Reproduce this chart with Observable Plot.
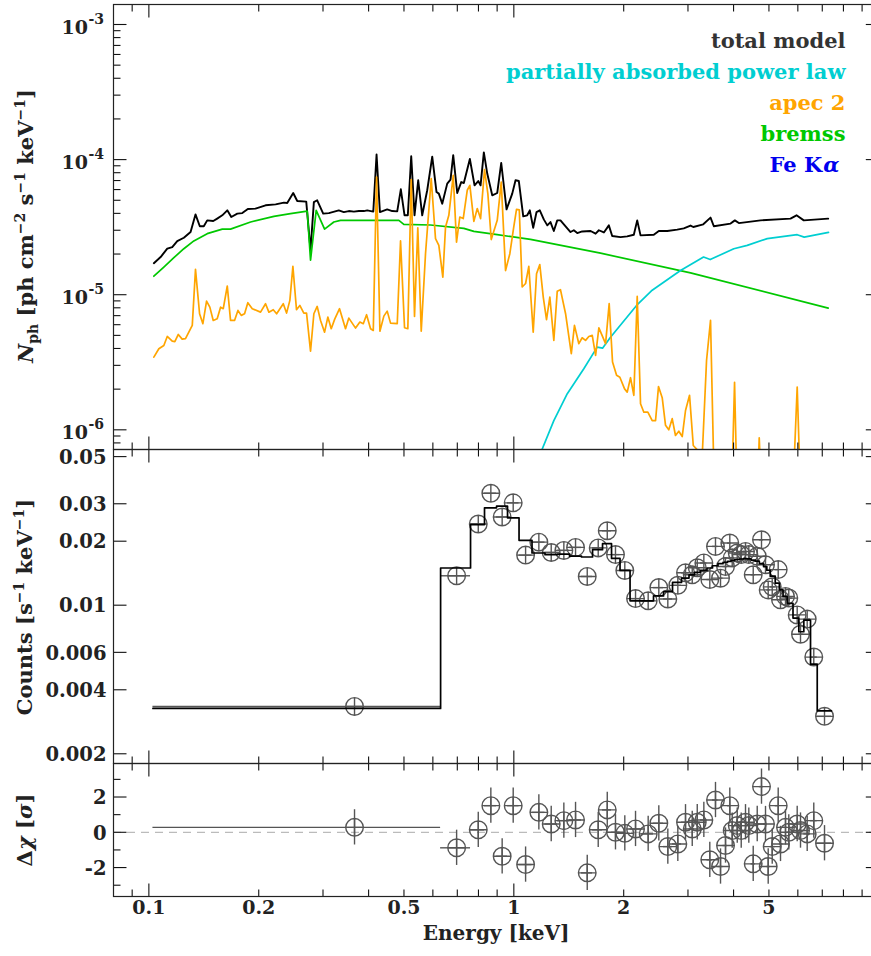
<!DOCTYPE html>
<html>
<head>
<meta charset="utf-8">
<script src="https://cdn.jsdelivr.net/npm/d3@7"></script>
<script src="https://cdn.jsdelivr.net/npm/@observablehq/plot@0.6"></script>
<style>
  html, body { margin: 0; padding: 0; background: #fff; overflow: hidden; }
  #chart { position: relative; width: 871px; height: 956px; overflow: hidden; background: #fff; }
  #chart svg { position: absolute; left: 0; }
</style>
</head>
<body>
<div id="chart"></div>
<script>
// ---------- Model components (photon spectrum, ph cm^-2 s^-1 keV^-1) ----------
const totalE = [0.1032,0.1077,0.1123,0.1159,0.1196,0.1247,0.1301,0.1342,0.1379,0.1414,0.1445,0.1501,0.1539,0.1589,0.1640,0.1682,0.1747,0.1803,0.1867,0.1960,0.2088,0.2225,0.2344,0.2394,0.2486,0.2550,0.2699,0.2773,0.2832,0.2892,0.3004,0.3113,0.3314,0.3421,0.3531,0.3645,0.3762,0.3882,0.3966,0.4120,0.4206,0.4296,0.4498,0.4643,0.4792,0.4902,0.5018,0.5123,0.5234,0.5344,0.5470,0.5610,0.5790,0.5976,0.6140,0.6230,0.6365,0.6569,0.6707,0.6822,0.6997,0.7176,0.7295,0.7577,0.7805,0.7990,0.8107,0.8276,0.8455,0.8726,0.9006,0.9236,0.9550,0.9900,1.0108,1.0320,1.0611,1.0882,1.1061,1.130,1.154,1.178,1.208,1.235,1.260,1.287,1.315,1.342,1.386,1.430,1.460,1.492,1.539,1.623,1.675,1.710,1.765,1.821,1.860,1.960,2.045,2.132,2.178,2.224,2.418,2.496,2.633,2.803,2.922,3.049,3.102,3.304,3.459,3.532,3.925,4.033,4.136,4.742,5.729,5.950,6.230,7.266];
const totalN = [1.71e-5,1.90e-5,2.19e-5,2.25e-5,2.49e-5,2.64e-5,2.91e-5,3.93e-5,3.21e-5,3.21e-5,3.55e-5,3.51e-5,3.66e-5,3.87e-5,4.21e-5,3.76e-5,3.98e-5,4.02e-5,4.31e-5,4.34e-5,4.59e-5,4.66e-5,4.80e-5,4.77e-5,5.66e-5,4.94e-5,4.89e-5,2.13e-5,4.85e-5,5.00e-5,3.98e-5,4.02e-5,4.21e-5,4.09e-5,4.16e-5,4.12e-5,4.16e-5,4.16e-5,4.21e-5,4.12e-5,1.09e-4,4.09e-5,4.28e-5,4.16e-5,4.14e-5,6.03e-5,3.87e-5,3.87e-5,1.06e-4,3.87e-5,7.03e-5,3.87e-5,5.93e-5,1.05e-4,5.75e-5,5.60e-5,4.72e-5,6.64e-5,7.11e-5,1.08e-4,5.66e-5,6.82e-5,6.71e-5,1.01e-4,6.45e-5,6.94e-5,6.45e-5,1.13e-4,7.88e-5,5.44e-5,5.66e-5,9.44e-5,4.28e-5,5.60e-5,7.03e-5,6.94e-5,3.80e-5,3.87e-5,4.21e-5,3.13e-5,4.09e-5,4.21e-5,3.61e-5,3.26e-5,3.45e-5,2.96e-5,3.55e-5,3.55e-5,3.21e-5,2.91e-5,3.00e-5,2.86e-5,2.94e-5,2.96e-5,2.83e-5,3.00e-5,2.89e-5,3.26e-5,2.72e-5,2.67e-5,2.70e-5,2.78e-5,3.55e-5,2.75e-5,2.78e-5,2.96e-5,2.96e-5,3.03e-5,3.10e-5,3.25e-5,3.17e-5,3.32e-5,3.72e-5,3.21e-5,3.36e-5,3.55e-5,3.39e-5,3.55e-5,3.66e-5,3.87e-5,3.55e-5,3.66e-5];

const powerlawE = [1.17,1.196,1.287,1.401,1.555,1.692,1.750,1.840,2.169,2.394,2.862,3.310,3.452,4.006,4.360,4.946,5.976,6.246,7.281];
const powerlawN = [4.5e-7,7.2e-7,1.17e-6,1.85e-6,2.83e-6,4.09e-6,4.02e-6,4.85e-6,8.33e-6,1.08e-5,1.51e-5,1.90e-5,1.82e-5,2.19e-5,2.32e-5,2.60e-5,2.78e-5,2.67e-5,2.89e-5];

const apecE = [0.1032,0.1065,0.1099,0.1123,0.1159,0.1178,0.1204,0.1234,0.1260,0.1315,0.1342,0.1377,0.1406,0.1439,0.1469,0.1501,0.1539,0.1572,0.1599,0.1640,0.1674,0.1717,0.1754,0.1791,0.1829,0.1867,0.1920,0.2023,0.2088,0.2132,0.2192,0.2239,0.2335,0.2384,0.2434,0.2481,0.2538,0.2592,0.2658,0.2704,0.2773,0.2832,0.2892,0.2954,0.3030,0.3093,0.3160,0.3230,0.3330,0.3458,0.3531,0.3684,0.3786,0.3868,0.3949,0.4050,0.4120,0.4206,0.4296,0.4404,0.4498,0.4594,0.4792,0.4893,0.5018,0.5123,0.5234,0.5344,0.5456,0.5575,0.5728,0.5938,0.6101,0.6230,0.6389,0.6499,0.6636,0.6822,0.6966,0.7112,0.7267,0.7453,0.7577,0.7771,0.7940,0.8107,0.8311,0.8488,0.8672,0.9006,0.9236,0.9490,0.9751,1.000,1.017,1.035,1.054,1.077,1.099,1.130,1.154,1.178,1.204,1.229,1.255,1.287,1.315,1.342,1.386,1.437,1.466,1.507,1.539,1.572,1.605,1.640,1.675,1.710,1.784,1.825,1.864,1.912,1.952,2.011,2.045,2.088,2.132,2.178,2.224,2.271,2.329,2.394,2.445,2.491,2.550,2.604,2.658,2.716,2.773,2.832,2.893,2.954,3.030,3.102,3.283,3.373,3.459,3.532,3.967,4.025,4.076,4.673,4.703,4.742,5.849,5.976,6.075,7.266];
const apecN = [3.45e-6,3.98e-6,4.21e-6,4.91e-6,4.53e-6,4.50e-6,5.08e-6,4.69e-6,4.73e-6,5.93e-6,1.54e-5,7.23e-6,6.10e-6,8.97e-6,8.09e-6,6.45e-6,6.64e-6,8.09e-6,7.88e-6,1.16e-5,6.45e-6,6.45e-6,7.65e-6,7.03e-6,7.23e-6,8.72e-6,7.88e-6,7.43e-6,8.58e-6,7.43e-6,7.74e-6,7.23e-6,8.58e-6,7.31e-6,9.08e-6,1.62e-5,7.74e-6,8.33e-6,7.31e-6,7.31e-6,3.82e-6,7.23e-6,8.19e-6,6.45e-6,5.28e-6,6.83e-6,5.60e-6,6.60e-6,7.88e-6,5.60e-6,6.71e-6,5.66e-6,6.27e-6,6.10e-6,7.11e-6,5.60e-6,5.44e-6,7.43e-5,5.37e-6,6.94e-6,7.56e-6,6.16e-6,6.10e-6,2.50e-5,5.69e-6,5.60e-6,7.11e-5,6.91e-6,3.13e-5,5.37e-6,2.01e-5,7.23e-5,2.60e-5,2.32e-5,1.35e-5,3.17e-5,3.87e-5,7.65e-5,2.45e-5,3.76e-5,3.66e-5,5.93e-5,6.45e-5,3.49e-5,4.34e-5,3.66e-5,8.43e-5,5.60e-5,2.56e-5,3.55e-5,6.82e-5,1.51e-5,2.01e-5,3.20e-5,4.28e-5,4.24e-5,1.14e-5,1.21e-5,1.62e-5,5.28e-6,1.43e-5,1.67e-5,9.60e-6,6.53e-6,9.60e-6,4.59e-6,1.06e-5,1.09e-5,7.23e-6,3.66e-6,5.93e-6,4.34e-6,4.80e-6,4.59e-6,4.91e-6,5.00e-6,3.55e-6,5.69e-6,4.34e-6,8.58e-6,3.17e-6,2.53e-6,2.45e-6,2.01e-6,1.90e-6,2.43e-6,1.80e-6,9.71e-6,1.56e-6,1.35e-6,1.35e-6,1.17e-6,1.17e-6,2.09e-6,1.73e-6,1.08e-6,1.00e-6,1.21e-6,9.08e-7,9.76e-7,8.92e-7,1.39e-6,1.80e-6,7.65e-7,6.5e-7,3.26e-6,6.45e-6,5.0e-7,5.0e-7,2.25e-6,5.0e-7,5.0e-7,8.72e-7,5.0e-7,5.0e-7,2.07e-6,5.0e-7,5.0e-7];

const bremssE = [0.1032,0.1099,0.1171,0.1247,0.1328,0.1445,0.1589,0.1674,0.1900,0.2201,0.2444,0.2716,0.2773,0.2874,0.3030,0.3212,0.3350,0.3882,0.4842,0.4995,0.5910,0.7295,0.7771,0.9005,1.111,1.728,3.049,7.268];
const bremssN = [1.37e-5,1.60e-5,1.88e-5,2.19e-5,2.50e-5,2.83e-5,3.06e-5,3.06e-5,3.45e-5,3.80e-5,3.98e-5,4.16e-5,1.80e-5,4.21e-5,3.06e-5,3.45e-5,3.55e-5,3.55e-5,3.55e-5,3.32e-5,3.28e-5,3.10e-5,2.94e-5,2.78e-5,2.57e-5,2.03e-5,1.45e-5,7.96e-6];

// ---------- Folded data, model and residuals ----------
const binEdges = [0.1026,0.6300,0.7610,0.8311,0.8967,0.9610,1.0334,1.1216,1.2173,1.3174,1.4210,1.5326,1.6433,1.7500,1.8522,1.9542,2.0818,2.2383,2.4138,2.5714,2.7215,2.8806,3.0200,3.1264,3.2470,3.3828,3.5022,3.6259,3.7422,3.8500,3.9360,4.0238,4.1466,4.2553,4.3586,4.4670,4.5868,4.7067,4.8328,4.9345,5.0413,5.2028,5.3394,5.4655,5.6090,5.8198,6.0370,6.2305,6.5001,6.7813,7.4206];
const dataE = [0.366,0.697,0.799,0.865,0.929,0.996,1.077,1.171,1.266,1.371,1.476,1.589,1.703,1.803,1.899,2.014,2.155,2.334,2.496,2.642,2.814,2.954,3.082,3.181,3.316,3.443,3.569,3.684,3.802,3.906,3.966,4.094,4.198,4.313,4.404,4.528,4.644,4.771,4.893,4.977,5.105,5.301,5.379,5.551,5.667,5.976,6.102,6.365,6.635,7.100];
const dataCounts = [0.00334,0.01375,0.0241,0.0336,0.0260,0.0303,0.0172,0.0198,0.0177,0.0181,0.0187,0.01365,0.0186,0.0224,0.0173,0.01457,0.01074,0.01048,0.0121,0.0107,0.0124,0.0142,0.0139,0.0150,0.0158,0.0132,0.0189,0.0134,0.0152,0.0196,0.0167,0.0176,0.0173,0.0179,0.0173,0.0139,0.0170,0.0203,0.0155,0.0118,0.0122,0.0147,0.0106,0.0110,0.0108,0.0090,0.0073,0.0086,0.0057,0.0030];
const modelCounts = [0.00327,0.01496,0.02395,0.02872,0.02922,0.02576,0.02019,0.0176,0.01728,0.0174,0.0170,0.01685,0.01825,0.01948,0.0166,0.01457,0.01048,0.01048,0.01106,0.01159,0.0128,0.01341,0.0139,0.01426,0.01457,0.01496,0.01533,0.01567,0.0159,0.01606,0.01623,0.0164,0.01649,0.01655,0.0165,0.0163,0.0161,0.0157,0.0152,0.0146,0.0137,0.0127,0.0118,0.0110,0.0102,0.0087,0.0075,0.0085,0.00528,0.00318];
const residuals = [0.28,-0.88,0.14,1.51,-1.36,1.51,-1.83,1.13,0.47,0.66,0.70,-2.30,0.14,1.27,0.0,-0.06,0.19,-0.09,0.51,-0.81,-0.66,0.57,0.19,0.57,0.70,-1.56,1.83,-1.94,-0.75,1.51,0.10,0.38,0.10,0.57,0.38,-1.79,0.47,2.59,0.47,-1.94,-0.81,1.51,-0.66,0.28,0.0,0.47,0.10,-0.09,0.66,-0.62];
const residualErr = 1; // residuals are expressed in units of sigma

// ---------- Axis ticks and labels ----------
const xMajorTicks = [0.1, 1, 10];
const xMinorTicks = [0.09,0.2,0.3,0.4,0.5,0.6,0.7,0.8,0.9,2,3,4,5,6,7,8,9];
const xTickValues = [0.1,0.2,0.5,1,2,5];
const xTickLabels = ["0.1","0.2","0.5","1","2","5"];
const specTickValues = [1e-6,1e-5,1e-4,1e-3];
const specTickExps = ["-6","-5","-4","-3"];
const countTickValues = [0.002,0.004,0.006,0.01,0.02,0.03,0.05];
const countTickLabels = ["0.002","0.004","0.006","0.01","0.02","0.03","0.05"];
const resTickValues = [-2,0,2];
const resTickLabels = ["-2","0","2"];
const resMinorTicks = [-3,-1,1,3];

const legendLabels = ["total model","partially absorbed power law","apec 2","bremss"];
const legendColors = ["#333333","#00CED1","#FFA500","#00C800"];

// ---------- Layout ----------
const FONT = "DejaVu Serif";
const W = 885, ML = 113, MR = 6.7;
const xDomain = [0.08, 10];
const specDomain = [7.15e-7, 1.406e-3];
const countDomain = [0.0018, 0.054];
const resDomain = [-3.64, 3.9];
const LONG = 13, SHORT = 7;

const zip = (xs, ys) => xs.map((E, i) => ({E, N: ys[i]}));
const totalRows = zip(totalE, totalN);
const powerlawRows = zip(powerlawE, powerlawN);
const apecRows = zip(apecE, apecN);
const bremssRows = zip(bremssE, bremssN);
const dataRows = dataE.map((E, i) => ({E, C: dataCounts[i], R: residuals[i], lo: binEdges[i], hi: binEdges[i + 1]}));
const stepRows = modelCounts.flatMap((m, i) => [{E: binEdges[i], C: m}, {E: binEdges[i + 1], C: m}]);

// inward tick segment and a circle-with-cross marker
const seg = (dx, dy) => ({draw(ctx) { ctx.moveTo(0, 0); ctx.lineTo(dx, dy); }});
const oplus = {draw(ctx, size) {
  const r = Math.sqrt(size / Math.PI);
  ctx.moveTo(r, 0); ctx.arc(0, 0, r, 0, 2 * Math.PI);
  ctx.moveTo(-r, 0); ctx.lineTo(r, 0);
  ctx.moveTo(0, -r); ctx.lineTo(0, r);
}};

function frameTicks(yDomain, yMajor, yMinor) {
  const [y0, y1] = yDomain, [x0, x1] = xDomain;
  const s = {fill: "none", stroke: "#111", strokeWidth: 1.1, r: 1};
  return [
    Plot.dot(xMajorTicks, {...s, x: d => d, y: () => y0, symbol: seg(0, -LONG)}),
    Plot.dot(xMajorTicks, {...s, x: d => d, y: () => y1, symbol: seg(0, LONG)}),
    Plot.dot(xMinorTicks, {...s, x: d => d, y: () => y0, symbol: seg(0, -SHORT)}),
    Plot.dot(xMinorTicks, {...s, x: d => d, y: () => y1, symbol: seg(0, SHORT)}),
    Plot.dot(yMajor, {...s, y: d => d, x: () => x0, symbol: seg(LONG, 0)}),
    Plot.dot(yMajor, {...s, y: d => d, x: () => x1, symbol: seg(-LONG, 0)}),
    Plot.dot(yMinor, {...s, y: d => d, x: () => x0, symbol: seg(SHORT, 0)}),
    Plot.dot(yMinor, {...s, y: d => d, x: () => x1, symbol: seg(-SHORT, 0)})
  ];
}

const specMinor = [];
for (const dec of [1e-7, 1e-6, 1e-5, 1e-4]) for (let k = 2; k <= 9; k++) {
  const v = k * dec;
  if (v > specDomain[0] && v < specDomain[1]) specMinor.push(v);
}

const txt = {fontFamily: FONT, fontWeight: "bold", fill: "#222"};
const baseStyle = {maxWidth: "none", overflow: "visible", background: "transparent", fontFamily: FONT};

function richLabel(svg, cx, cy, parts) {
  const t = d3.select(svg).append("text")
    .attr("transform", `translate(${cx},${cy}) rotate(-90)`)
    .attr("text-anchor", "middle")
    .attr("font-family", FONT).attr("font-weight", "bold")
    .attr("font-size", 21).attr("fill", "#222");
  let shift = 0;
  for (const p of parts) {
    const target = p.sup ? -8 : p.sub ? 5 : 0;
    const s = t.append("tspan").text(p.t).attr("dy", target - shift);
    shift = target;
    if (p.sup || p.sub) s.attr("font-size", 14);
    if (p.it) s.attr("font-style", "italic");
  }
}

// ---------- Panel 1: unfolded model components ----------
const legendMarks = legendLabels.map((label, i) =>
  Plot.text([label], {frameAnchor: "top-right", dx: -33.3, dy: 43 + 31 * i, lineAnchor: "bottom",
    textAnchor: "end", fontSize: 21, ...txt, fill: legendColors[i]}));

const panel1 = Plot.plot({
  width: W, height: 449, marginLeft: ML, marginRight: MR, marginTop: 4, marginBottom: 0,
  x: {type: "log", domain: xDomain, axis: null},
  y: {type: "log", domain: specDomain, axis: null},
  style: baseStyle,
  marks: [
    Plot.line(totalRows, {x: "E", y: "N", stroke: "#000", strokeWidth: 1.9, clip: true}),
    Plot.line(bremssRows, {x: "E", y: "N", stroke: "#00C800", strokeWidth: 1.7, clip: true}),
    Plot.line(powerlawRows, {x: "E", y: "N", stroke: "#00CED1", strokeWidth: 1.7, clip: true}),
    Plot.line(apecRows, {x: "E", y: "N", stroke: "#FFA500", strokeWidth: 1.7, clip: true}),
    ...frameTicks(specDomain, specTickValues, specMinor),
    Plot.frame({stroke: "#222", strokeWidth: 1.2}),
    Plot.text(specTickValues, {y: d => d, frameAnchor: "left", text: () => "10", textAnchor: "end", dx: -25.5, dy: 3, fontSize: 19, ...txt}),
    Plot.text(specTickValues, {y: d => d, frameAnchor: "left", text: (d, i) => specTickExps[i], textAnchor: "start", dx: -25, dy: -5, fontSize: 14, ...txt}),
    ...legendMarks,
    Plot.text(["Fe K"], {frameAnchor: "top-right", dx: -56.6, dy: 43 + 31 * 4, lineAnchor: "bottom", textAnchor: "end", fontSize: 21, ...txt, fill: "#0000EE"}),
    Plot.text(["α"], {frameAnchor: "top-right", dx: -55.5, dy: 43 + 31 * 4, lineAnchor: "bottom", textAnchor: "start", fontSize: 21, ...txt, fontStyle: "italic", fill: "#0000EE"})
  ]
});

// ---------- Panel 2: folded counts with step model ----------
const panel2 = Plot.plot({
  width: W, height: 314, marginLeft: ML, marginRight: MR, marginTop: 0, marginBottom: 0,
  x: {type: "log", domain: xDomain, axis: null},
  y: {type: "log", domain: countDomain, axis: null},
  style: baseStyle,
  marks: [
    Plot.ruleY(dataRows, {y: "C", x1: "lo", x2: "hi", stroke: "#555", strokeWidth: 1.4}),
    Plot.dot(dataRows, {x: "E", y: "C", r: 8.8, symbol: oplus, fill: "none", stroke: "#555", strokeWidth: 1.4}),
    Plot.line(stepRows, {x: "E", y: "C", stroke: "#000", strokeWidth: 1.7}),
    ...frameTicks(countDomain, countTickValues, []),
    Plot.frame({stroke: "#222", strokeWidth: 1.2}),
    Plot.text(countTickValues, {y: d => d, frameAnchor: "left", text: (d, i) => countTickLabels[i], textAnchor: "end", dx: -7, dy: 1, fontSize: 19.5, ...txt})
  ]
});

// ---------- Panel 3: residuals ----------
const panel3 = Plot.plot({
  width: W, height: 193, marginLeft: ML, marginRight: MR, marginTop: 0, marginBottom: 60,
  x: {type: "log", domain: xDomain, axis: null},
  y: {domain: resDomain, axis: null},
  style: baseStyle,
  marks: [
    Plot.ruleY([0], {stroke: "#bbb", strokeWidth: 1.3, strokeDasharray: "8,6"}),
    Plot.ruleY(dataRows, {y: "R", x1: "lo", x2: "hi", stroke: "#555", strokeWidth: 1.4}),
    Plot.ruleX(dataRows, {x: "E", y1: d => d.R - residualErr, y2: d => d.R + residualErr, stroke: "#555", strokeWidth: 1.4}),
    Plot.dot(dataRows, {x: "E", y: "R", r: 8.8, symbol: oplus, fill: "none", stroke: "#555", strokeWidth: 1.4}),
    ...frameTicks(resDomain, resTickValues, resMinorTicks),
    Plot.frame({stroke: "#222", strokeWidth: 1.2}),
    Plot.text(resTickValues, {y: d => d, frameAnchor: "left", text: (d, i) => resTickLabels[i], textAnchor: "end", dx: -7, dy: 1, fontSize: 19.5, ...txt}),
    Plot.text(xTickValues, {x: d => d, frameAnchor: "bottom", text: (d, i) => xTickLabels[i], dy: 17, fontSize: 19, ...txt}),
    Plot.text(["Energy [keV]"], {frameAnchor: "bottom", dy: 43, fontSize: 20, ...txt})
  ]
});

// axis titles with sub/superscripts
richLabel(panel1, 33, 226, [
  {t: "N", it: true}, {t: "ph", sub: true}, {t: " [ph cm"}, {t: "−2", sup: true},
  {t: " s"}, {t: "−1", sup: true}, {t: " keV"}, {t: "−1", sup: true}, {t: "]"}
]);
richLabel(panel2, 32, 158, [
  {t: "Counts [s"}, {t: "−1", sup: true}, {t: " keV"}, {t: "−1", sup: true}, {t: "]"}
]);
richLabel(panel3, 32, 67, [
  {t: "Δ"}, {t: "χ", it: true}, {t: " ["}, {t: "σ", it: true}, {t: "]"}
]);

const chart = document.getElementById("chart");
[[panel1, 0], [panel2, 449], [panel3, 763]].forEach(([svg, top]) => {
  svg.style.top = top + "px";
  svg.style.position = "absolute";
  chart.appendChild(svg);
});
</script>
</body>
</html>
